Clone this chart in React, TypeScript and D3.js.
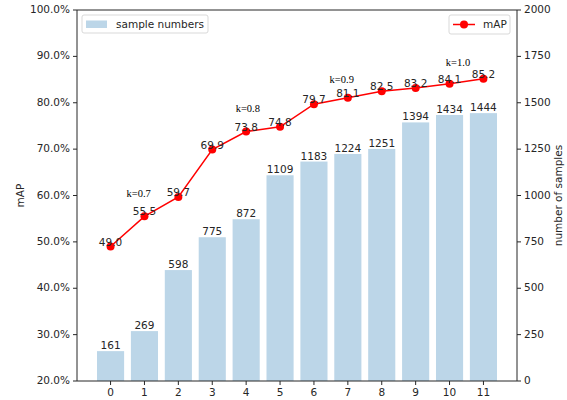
import React from "react";
import * as d3 from "d3";

const categories = [0, 1, 2, 3, 4, 5, 6, 7, 8, 9, 10, 11];
const sampleNumbers = [161, 269, 598, 775, 872, 1109, 1183, 1224, 1251, 1394, 1434, 1444];
const mapValues = [49.0, 55.5, 59.7, 69.9, 73.8, 74.8, 79.7, 81.1, 82.5, 83.2, 84.1, 85.2];
const kLabels = ["k=0.7", "k=0.8", "k=0.9", "k=1.0"];
const kX = [0.83, 4.05, 6.82, 10.25];
const kY = [60.3, 78.6, 84.8, 88.4];
const leftTicks = [20, 30, 40, 50, 60, 70, 80, 90, 100];
const rightTicks = [0, 250, 500, 750, 1000, 1250, 1500, 1750, 2000];

const W = 567, H = 400;
const L = 77, R = 517, T = 10, B = 381;
const font = "DejaVu Sans, sans-serif";
const txt = "#262626";

export default function App() {
  const x = d3.scaleLinear().domain([-0.99, 11.99]).range([L, R]);
  const yL = d3.scaleLinear().domain([20, 100]).range([B, T]);
  const yR = d3.scaleLinear().domain([0, 2000]).range([B, T]);
  const bw = x(0.8) - x(0);
  const line = d3.line<number>().x((_, i) => x(categories[i])).y((d) => yL(d));

  return (
    <svg width={W} height={H} style={{ position: "absolute", left: 0, top: 0, background: "#fff" }}>
      {/* bars */}
      {sampleNumbers.map((v, i) => (
        <rect key={"b" + i} x={x(categories[i]) - bw / 2} y={yR(v)} width={bw} height={B - yR(v)} fill="#bcd6e8" />
      ))}
      {sampleNumbers.map((v, i) => (
        <text key={"bt" + i} x={x(categories[i])} y={yR(v) - 2} textAnchor="middle" fontFamily={font} fontSize={10.5} fill={txt}>
          {v}
        </text>
      ))}
      {/* line */}
      <path d={line(mapValues) || ""} fill="none" stroke="#ff0000" strokeWidth={1.5} />
      {mapValues.map((v, i) => (
        <circle key={"c" + i} cx={x(categories[i])} cy={yL(v)} r={4} fill="#ff0000" />
      ))}
      {mapValues.map((v, i) => (
        <text key={"lt" + i} x={x(categories[i])} y={yL(v) - 1} textAnchor="middle" fontFamily={font} fontSize={10.5} fill={txt}>
          {v.toFixed(1)}
        </text>
      ))}
      {kLabels.map((k, i) => (
        <text key={"k" + i} x={x(kX[i])} y={yL(kY[i])} textAnchor="middle" dominantBaseline="middle" fontFamily="Liberation Serif, DejaVu Serif, serif" fontSize={10.5} fill="#000">
          {k}
        </text>
      ))}
      {/* axes frame */}
      <line x1={L} y1={T} x2={R} y2={T} stroke="#262626" strokeWidth={1} />
      <line x1={L} y1={B} x2={R} y2={B} stroke="#262626" strokeWidth={1} />
      <line x1={L} y1={T} x2={L} y2={B} stroke="#262626" strokeWidth={1} />
      <line x1={R} y1={T} x2={R} y2={B} stroke="#262626" strokeWidth={1} />
      {/* left ticks */}
      {leftTicks.map((t) => (
        <g key={"lt" + t}>
          <line x1={L - 4} x2={L} y1={yL(t)} y2={yL(t)} stroke="#262626" />
          <text x={L - 7} y={yL(t)} textAnchor="end" dominantBaseline="middle" fontFamily={font} fontSize={10.5} fill={txt}>
            {t.toFixed(1)}%
          </text>
        </g>
      ))}
      {/* right ticks */}
      {rightTicks.map((t) => (
        <g key={"rt" + t}>
          <line x1={R} x2={R + 4} y1={yR(t)} y2={yR(t)} stroke="#262626" />
          <text x={R + 7} y={yR(t)} textAnchor="start" dominantBaseline="middle" fontFamily={font} fontSize={10.5} fill={txt}>
            {t}
          </text>
        </g>
      ))}
      {/* bottom ticks */}
      {categories.map((c) => (
        <g key={"xt" + c}>
          <line x1={x(c)} x2={x(c)} y1={B} y2={B + 4} stroke="#262626" />
          <text x={x(c)} y={B + 15} textAnchor="middle" fontFamily={font} fontSize={10.5} fill={txt}>
            {c}
          </text>
        </g>
      ))}
      {/* axis labels */}
      <text transform={`translate(21,${(T + B) / 2}) rotate(-90)`} textAnchor="middle" dominantBaseline="middle" fontFamily={font} fontSize={10.5} fill={txt}>
        mAP
      </text>
      <text transform={`translate(559,${(T + B) / 2}) rotate(-90)`} textAnchor="middle" dominantBaseline="middle" fontFamily={font} fontSize={10.5} fill={txt}>
        number of samples
      </text>
      {/* legend 1 */}
      <rect x={82} y={15} width={126} height={18} rx={2} fill="#fff" stroke="#d9d9d9" />
      <rect x={86} y={20.5} width={21} height={7.5} fill="#bcd6e8" />
      <text x={116} y={24.5} dominantBaseline="middle" fontFamily={font} fontSize={10.5} fill={txt}>
        sample numbers
      </text>
      {/* legend 2 */}
      <rect x={449} y={15} width={61} height={19} rx={2} fill="#fff" stroke="#d9d9d9" />
      <line x1={453} x2={475} y1={24.5} y2={24.5} stroke="#ff0000" strokeWidth={1.5} />
      <circle cx={464} cy={24.5} r={4} fill="#ff0000" />
      <text x={483} y={24.5} dominantBaseline="middle" fontFamily={font} fontSize={10.5} fill={txt}>
        mAP
      </text>
    </svg>
  );
}
